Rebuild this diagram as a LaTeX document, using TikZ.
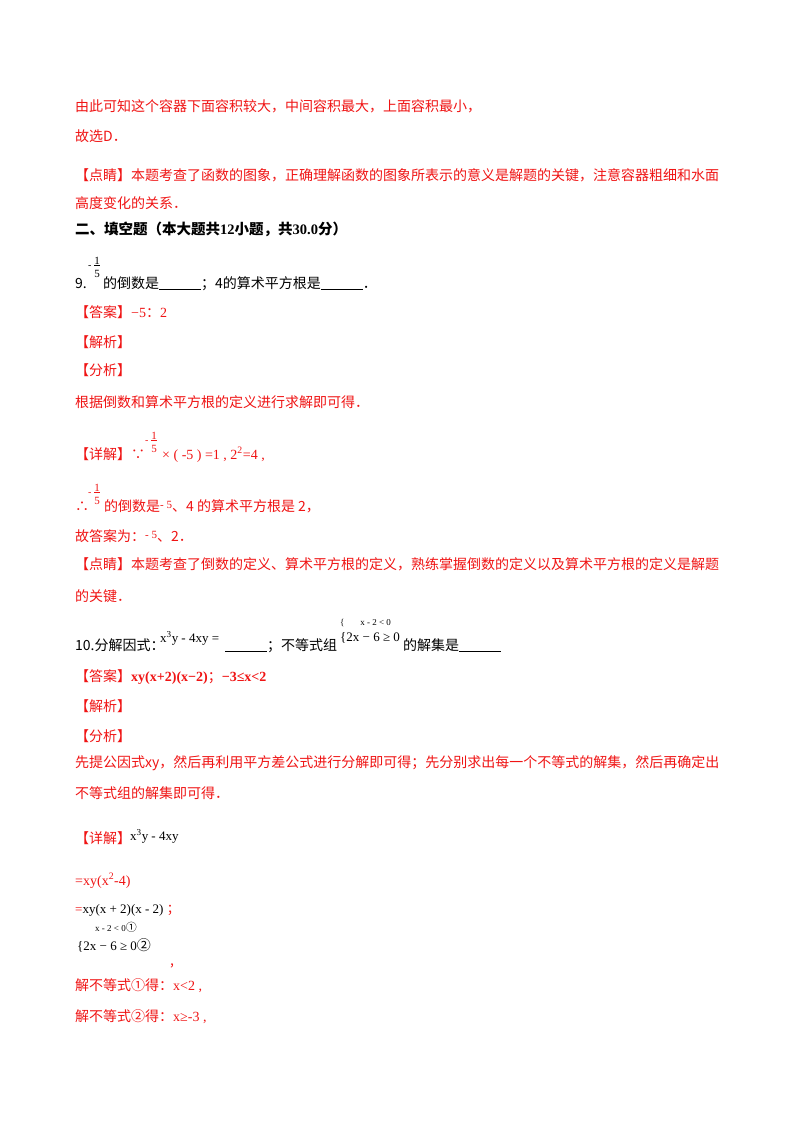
\documentclass[tikz,border=0pt]{standalone}
\usepackage{fontspec}
\setmainfont{Noto Sans CJK SC}
\newfontfamily\tm{Liberation Serif}
\newfontfamily\cj{Noto Sans CJK SC}
\definecolor{rd}{RGB}{240,20,20}
\begin{document}
\begin{tikzpicture}[x=1pt,y=-1pt,
  t/.style={anchor=base west,inner sep=0pt,font=\fontsize{14}{16}\selectfont},
  r/.style={t,text=rd},
  sm/.style={anchor=base west,inner sep=0pt,font=\tm\fontsize{10}{11}\selectfont}]
\useasboundingbox[fill=white] (0,0) rectangle (800,1132);
\node[r] (l1) at (75,111) {由此可知这个容器下面容积较大，中间容积最大，上面容积最小，};
\node[r] (l2) at (75,141) {故选D．};
\node[r] (l3) at (75,180) {【点睛】本题考查了函数的图象，正确理解函数的图象所表示的意义是解题的关键，注意容器粗细和水面};
\node[r] (l4) at (75,208) {高度变化的关系．};
\node[t,font=\bfseries\fontsize{14.5}{16}\selectfont] (h) at (75,234) {二、填空题（本大题共{\tm 12}小题，共{\tm 30.0}分）};
% Q9
\node[t] (q9) at (75,288) {9.};
\node[sm] (q9f) at (88,268) {- \raisebox{-9pt}{\shortstack{\fontsize{11}{11}\selectfont 1\\[-2pt]\rule{6pt}{0.4pt}\\[1pt]\fontsize{11}{11}\selectfont 5}}};
\node[t] (q9b) at (103,288) {的倒数是\underline{\hspace{42pt}}；4的算术平方根是\underline{\hspace{42pt}}．};
\node[r] (a9) at (75,317) {【答案】{\tm −5}：{\tm 2}};
\node[r] (j9) at (75,347) {【解析】};
\node[r] (f9) at (75,375) {【分析】};
\node[r] (f9t) at (75,407) {根据倒数和算术平方根的定义进行求解即可得．};
\node[r] (d9) at (75,459) {【详解】∵};
\node[sm,text=rd] (d9f) at (145,443) {- \raisebox{-9pt}{\shortstack{\fontsize{11}{11}\selectfont 1\\[-2pt]\rule{6pt}{0.4pt}\\[1pt]\fontsize{11}{11}\selectfont 5}}};
\node[r,font=\tm\fontsize{14}{16}\selectfont] (d9b) at (162,459) {× ( -5 ) =1 , 2\textsuperscript{2}=4 ,};
\node[r] (s9) at (75,511) {∴};
\node[sm,text=rd] (s9f) at (88,495) {- \raisebox{-9pt}{\shortstack{\fontsize{11}{11}\selectfont 1\\[-2pt]\rule{6pt}{0.4pt}\\[1pt]\fontsize{11}{11}\selectfont 5}}};
\node[r] (s9b) at (104,511) {的倒数是{\tm\fontsize{11}{11}\selectfont \raisebox{3pt}{- 5}}、4 的算术平方根是 2，};
\node[r] (g9) at (75,541) {故答案为：{\tm\fontsize{11}{11}\selectfont \raisebox{3pt}{- 5}}、2．};
\node[r] (p9) at (75,569) {【点睛】本题考查了倒数的定义、算术平方根的定义，熟练掌握倒数的定义以及算术平方根的定义是解题};
\node[r] (p9b) at (75,601) {的关键．};
% Q10
\node[t] (q10) at (75,650) {10.分解因式：};
\node[sm,font=\tm\fontsize{13}{14}\selectfont] (q10m) at (160,642) {x\textsuperscript{3}y - 4xy =};
\node[t] (q10b) at (225,650) {\underline{\hspace{42pt}}；不等式组};
\node[sm,font=\tm\fontsize{9}{9}\selectfont] (sys1) at (340,625) {\{ \quad\ \ x - 2 < 0};
\node[sm,font=\tm\fontsize{13}{13}\selectfont] (sys2) at (340,641) {\{2x − 6 ≥ 0};
\node[t] (q10c) at (403,650) {的解集是\underline{\hspace{42pt}}};
\node[r] (a10) at (75,681) {【答案】{\tm\bfseries xy(x+2)(x−2)}；{\tm\bfseries −3≤x<2}};
\node[r] (j10) at (75,711) {【解析】};
\node[r] (f10) at (75,741) {【分析】};
\node[r] (f10a) at (75,767) {先提公因式xy，然后再利用平方差公式进行分解即可得；先分别求出每一个不等式的解集，然后再确定出};
\node[r] (f10b) at (75,798) {不等式组的解集即可得．};
\node[r] (d10) at (75,843) {【详解】};
\node[sm,font=\tm\fontsize{13}{14}\selectfont] (d10m) at (130,840) {x\textsuperscript{3}y - 4xy};
\node[r,font=\tm\fontsize{14}{16}\selectfont] (e1) at (75,885) {=xy(x\textsuperscript{2}-4)};
\node[sm,font=\tm\fontsize{13}{14}\selectfont] (e2) at (75,913) {\textcolor{rd}{=}xy(x + 2)(x - 2) \textcolor{rd}{\cj ；}};
\node[sm,font=\tm\fontsize{9}{9}\selectfont] (e3) at (95,931) {x - 2 < 0{\cj\fontsize{11}{11}\selectfont ①}};
\node[sm,font=\tm\fontsize{13}{13}\selectfont] (e4) at (77,950) {\{2x − 6 ≥ 0{\cj\fontsize{14}{14}\selectfont ②}};
\node[r] (e5) at (170,965) {,};
\node[r] (e6) at (75,990) {解不等式①得：{\tm x<2 ,}};
\node[r] (e7) at (75,1021) {解不等式②得：{\tm x≥-3 ,}};
\end{tikzpicture}
\end{document}
